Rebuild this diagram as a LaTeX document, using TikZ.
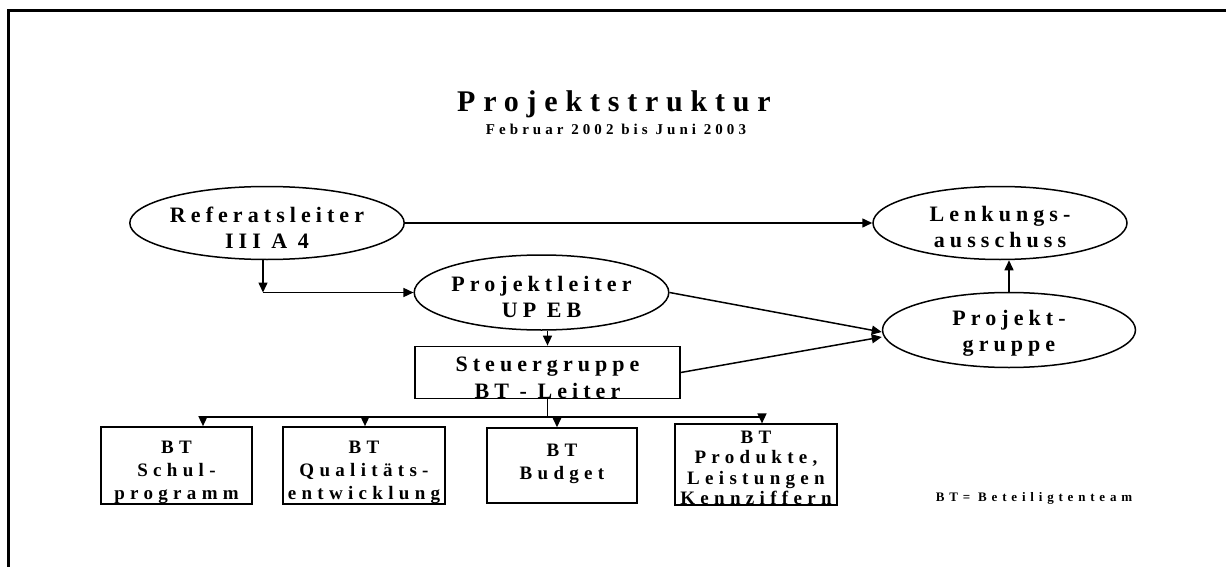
\documentclass[tikz,border=0pt]{standalone}
\usepackage{fontspec}
\setmainfont{Liberation Serif}
\usetikzlibrary{arrows.meta,shapes.geometric}
\newcommand\lsf[3]{\bfseries\fontsize{#1}{#2}\selectfont\addfontfeature{LetterSpace=#3}}
\newcommand\tstrut[1]{\rule{0pt}{#1pt}}
\begin{document}
\begin{tikzpicture}[x=1pt,y=-1pt,
  arr/.style={line width=1.5pt,-{Triangle[length=10pt,width=9pt]}},
  ln/.style={line width=1.5pt},
  ell/.style={draw,ellipse,line width=1.5pt,inner sep=0pt,align=center,font=\lsf{22}{26}{23}},
  bx/.style={draw,rectangle,line width=1.5pt,inner sep=0pt,align=center,font=\lsf{19}{23}{28}}
]
\useasboundingbox (0,0) rectangle (1226,567);
\draw[line width=3pt] (8,570) -- (8,11) -- (1230,11);

\node[font=\lsf{30}{34}{26}] (title) at (614,104) {Projektstruktur};
\node[font=\lsf{15}{17}{27}] (sub) at (616,129) {Februar 2002 bis Juni 2003};

\node[ell,minimum width=252pt,minimum height=73pt] (ref) at (267,223) {\tstrut{25}Referatsleiter\\III A 4};
\node[ell,minimum width=254pt,minimum height=73pt] (lenk) at (1000,223) {\tstrut{24}Lenkungs-\\ausschuss};
\node[ell,minimum width=253pt,minimum height=75pt] (pl) at (541.5,292.5) {\tstrut{25}Projektleiter\\UP EB};
\node[ell,minimum width=253pt,minimum height=75pt] (pg) at (1009,330) {\tstrut{21}Projekt-\\gruppe};
\node[draw,rectangle,line width=1.5pt,inner sep=0pt,align=center,font=\lsf{22}{27}{23},
  minimum width=265pt,minimum height=49pt] (sg) at (547.5,372.5) {\tstrut{25}Steuergruppe\\BT - Leiter};

\node[bx,minimum width=151pt,minimum height=75pt] (b1) at (176.5,465.5) {\tstrut{27}BT\\Schul-\\programm};
\node[bx,minimum width=162pt,minimum height=75pt] (b2) at (364,465.5) {\tstrut{27}BT\\Qualitäts-\\entwicklung};
\node[bx,minimum width=150pt,minimum height=75pt] (b3) at (562,465.5) {\tstrut{27}BT\\Budget\\\mbox{}};
\node[bx,font=\lsf{19}{20.5}{28},
  minimum width=162pt,minimum height=73pt] (b4) at (756,464.5) {\tstrut{19}BT\\Produkte,\\Leistungen\\Kennziffern};

\node[font=\lsf{13}{15}{37}] (leg) at (1034,498) {BT= Beteiligtenteam};

\draw[arr] (ref.east) -- (lenk.west);
\coordinate (c1) at (263,292.5);
\draw[arr] (c1 |- ref.south) -- (c1);
\draw[arr] (c1) -- (pl.west);
\draw[arr] (pl.east) -- ([yshift=-2pt]pg.west);
\draw[arr] (sg.east) -- ([yshift=-7pt]pg.west);
\draw[arr] (pg.north) -- (pg.north |- lenk.south);
\draw[arr] (sg.north |- pl.south) -- (sg.north);

\coordinate (bus) at (548,417);
\coordinate (a1) at (203,417);
\coordinate (a2) at (365,417);
\coordinate (a3) at (557,417);
\coordinate (a4) at (762,417);
\draw[ln] (sg.south) -- (sg.south |- bus);
\draw[ln] (a1) -- (a4);
\draw[arr] (a1) -- (a1 |- b1.north);
\draw[arr] (a2) -- (a2 |- b2.north);
\draw[arr] (a3) -- (a3 |- b3.north);
\draw[arr] (a4) -- (a4 |- b4.north);
\end{tikzpicture}
\end{document}
